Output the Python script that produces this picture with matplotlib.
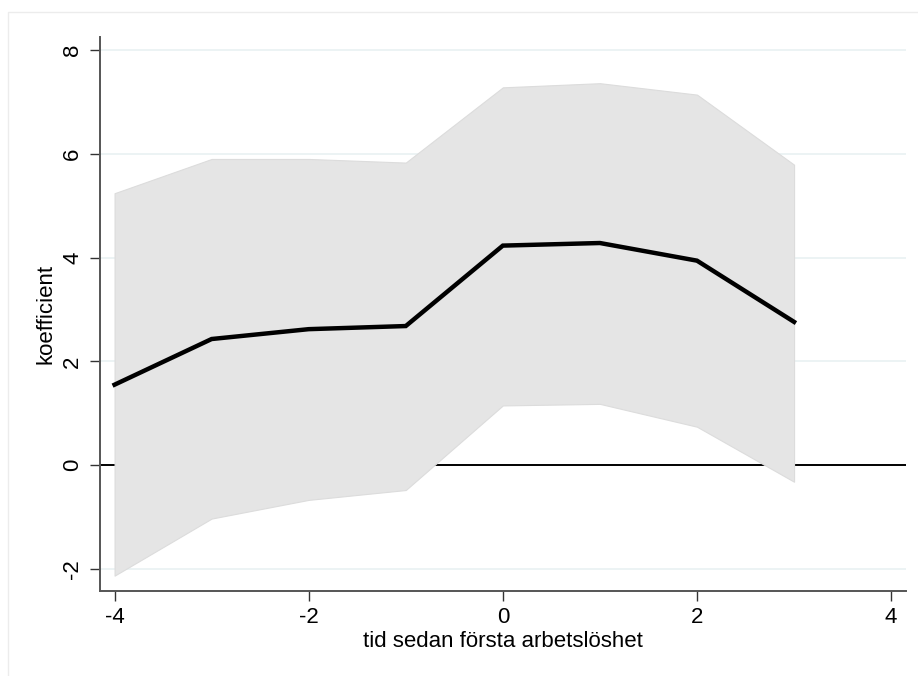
import matplotlib
matplotlib.use("Agg")
import matplotlib.pyplot as plt
from matplotlib.patches import Rectangle

# event-study estimates
tid = [-4, -3, -2, -1, 0, 1, 2, 3]
koef = [1.55, 2.43, 2.62, 2.68, 4.23, 4.28, 3.94, 2.76]
ci_hi = [5.24, 5.90, 5.90, 5.83, 7.28, 7.36, 7.14, 5.79]
ci_lo = [-2.13, -1.03, -0.67, -0.48, 1.15, 1.18, 0.74, -0.32]
xticks = [-4, -2, 0, 2, 4]
yticks = [-2, 0, 2, 4, 6, 8]

plt.rcParams['font.family'] = ['Liberation Sans', 'DejaVu Sans']

W, H = 918, 676
fig = plt.figure(figsize=(W / 100, H / 100), dpi=100)

# faint outer frame of the graph region
fig.patches.append(Rectangle((8 / W, -0.1), 1.2, 1.1 - 12 / H + 0.0, transform=fig.transFigure,
                             fill=False, edgecolor="#ececec", lw=1.0))

ax = fig.add_axes([100 / W, (H - 590.7) / H, (905.7 - 100) / W, (590.7 - 37) / H])
ax.set_xlim(-4.15, 4.15)
ax.set_ylim(-2.42, 8.25)

for y in yticks:
    ax.axhline(y, color="#eaf2f3", lw=1.3, zorder=0)
ax.axhline(0, color="black", lw=1.4, zorder=1)

ax.fill_between(tid, ci_lo, ci_hi, facecolor="#e5e5e5", edgecolor="#dcdcdc", lw=0.8, zorder=2)
ax.plot(tid, koef, color="black", lw=3.2, solid_joinstyle="miter", zorder=3)

ax.set_xticks(xticks)
ax.set_yticks(yticks)
ax.set_xticklabels([str(v).replace("-", "-") for v in xticks])
ax.set_yticklabels([str(v) for v in yticks])
ax.tick_params(axis="both", labelsize=16, length=7, width=1.0, color="#333333", pad=5)
ax.tick_params(axis="y", labelrotation=90)
for lab in ax.get_yticklabels():
    lab.set_va("center")

for s in ["top", "right"]:
    ax.spines[s].set_visible(False)
for s in ["left", "bottom"]:
    ax.spines[s].set_color("#555555")
    ax.spines[s].set_linewidth(1.4)

ax.set_ylabel("koefficient", fontsize=16, labelpad=4)
ax.set_xlabel("tid sedan första arbetslöshet", fontsize=16, labelpad=2)

fig.savefig("out.png", dpi=100)
